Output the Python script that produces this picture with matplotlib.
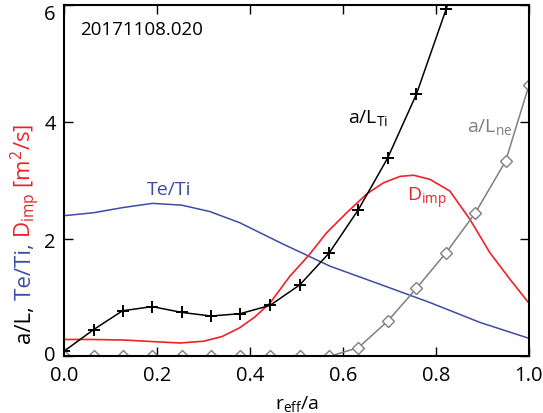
import numpy as np
import matplotlib
matplotlib.use("Agg")
import matplotlib.pyplot as plt
from matplotlib.transforms import offset_copy, ScaledTranslation

plt.rcParams['font.family'] = ['Open Sans', 'DejaVu Sans']
plt.rcParams['mathtext.fontset'] = 'custom'
plt.rcParams['mathtext.rm'] = 'Open Sans'
plt.rcParams['mathtext.it'] = 'Open Sans:italic'

# a/L_Ti (black, + markers)
x_lti = [0.0, 0.064, 0.126, 0.19, 0.254, 0.317, 0.379, 0.443, 0.507, 0.57, 0.633, 0.696, 0.758, 0.822, 0.84]
y_lti = [0.09, 0.46, 0.78, 0.85, 0.75, 0.69, 0.73, 0.87, 1.22, 1.76, 2.50, 3.38, 4.47, 5.92, 6.4]

# a/L_ne (gray, diamond markers)
x_lne = [0.0, 0.064, 0.126, 0.19, 0.254, 0.317, 0.379, 0.443, 0.507, 0.57, 0.633, 0.696, 0.758, 0.822, 0.885, 0.95, 1.0]
y_lne = [0.0, 0.0, 0.0, 0.0, 0.0, 0.0, 0.0, 0.0, 0.0, 0.0, 0.15, 0.60, 1.16, 1.77, 2.45, 3.33, 4.62]

# Te/Ti (blue)
x_teti = [0.0, 0.063, 0.128, 0.19, 0.253, 0.314, 0.378, 0.465, 0.572, 0.68, 0.787, 0.895, 1.0]
y_teti = [2.40, 2.45, 2.54, 2.61, 2.58, 2.47, 2.28, 1.94, 1.54, 1.23, 0.92, 0.58, 0.31]

# D_imp (red)
x_dimp = [0.0, 0.06, 0.13, 0.2, 0.25, 0.3, 0.34, 0.378, 0.41, 0.443, 0.486, 0.525, 0.565, 0.608,
          0.651, 0.687, 0.723, 0.752, 0.787, 0.83, 0.873, 0.916, 0.959, 1.0]
y_dimp = [0.29, 0.29, 0.28, 0.25, 0.23, 0.26, 0.34, 0.49, 0.67, 0.91, 1.37, 1.71, 2.11, 2.45,
          2.77, 2.96, 3.07, 3.09, 3.02, 2.82, 2.34, 1.77, 1.32, 0.91]

c_blue = "#3c4ca6"
c_red = "#ee2229"
c_gray = "#7f7f7f"

fig = plt.figure(figsize=(5.43, 4.14), dpi=100)
ax = fig.add_axes([0.1179, 0.1365, 0.8561, 0.8502])

ax.plot(x_teti, y_teti, color=c_blue, lw=1.1)
ax.plot(x_dimp, y_dimp, color=c_red, lw=1.2)
ax.plot(x_lne, y_lne, color=c_gray, lw=1.1, marker='D', ms=6.5, mfc='white', mec=c_gray, mew=1.0)
ax.plot(x_lti, y_lti, color='black', lw=1.1, marker='+', ms=8, mew=1.4)

ax.set_xlim(0, 1.0)
ax.set_ylim(0, 6)
ax.set_xticks([0.0, 0.2, 0.4, 0.6, 0.8, 1.0])
ax.set_xticklabels(["0.0", "0.2", "0.4", "0.6", "0.8", "1.0"])
ax.set_yticks([0, 2, 4, 6])
ax.tick_params(direction='in', length=6.5, width=1.0, labelsize=14.5,
               top=True, right=True, pad=6)
for s in ax.spines.values():
    s.set_linewidth(1.5)

# end labels on the y axis sit inside the axis range
ylabs = ax.get_yticklabels()
ylabs[0].set_transform(ylabs[0].get_transform() + ScaledTranslation(0, 4 / 100, fig.dpi_scale_trans))
ylabs[-1].set_transform(ylabs[-1].get_transform() + ScaledTranslation(0, -7 / 100, fig.dpi_scale_trans))

ax.text(0.034, 5.59, "20171108.020", fontsize=13.5, va='center', ha='left')
ax.text(0.61, 4.09, r"a/L$_{\rm Ti}$", fontsize=14, va='center', ha='left', color='black')
ax.text(0.866, 3.93, r"a/L$_{\rm ne}$", fontsize=14, va='center', ha='left', color=c_gray)
ax.text(0.737, 2.71, r"D$_{\rm imp}$", fontsize=14, va='center', ha='left', color=c_red)
ax.text(0.178, 2.85, "Te/Ti", fontsize=14, va='center', ha='left', color=c_blue)

ax.set_xlabel(r"r$_{\rm eff}$/a", fontsize=14, labelpad=6)

# multi-coloured y label, stacked from the bottom up
pieces = [("a/L, ", "black"), ("Te/Ti, ", c_blue), (r"D$_{\rm imp}$ [m$^2$/s]", c_red)]
fs_y = 16
fig.canvas.draw()
renderer = fig.canvas.get_renderer()


def text_len(s):
    # length of s including trailing spaces, measured with a guard character
    t1 = fig.text(0, 0, s + "|", fontsize=fs_y)
    t2 = fig.text(0, 0, "|", fontsize=fs_y)
    w = t1.get_window_extent(renderer).width - t2.get_window_extent(renderer).width
    t1.remove()
    t2.remove()
    return w


y0 = 1 - 344.0 / 414
x0 = 25.0 / 543
offset = 0.0
for txt, col in pieces:
    tr = offset_copy(fig.transFigure, fig=fig, x=0, y=offset, units='dots')
    fig.text(x0, y0, txt, color=col, fontsize=fs_y, rotation=90,
             ha='left', va='center', rotation_mode='anchor', transform=tr)
    offset += text_len(txt)

fig.savefig("out.png", dpi=100)
